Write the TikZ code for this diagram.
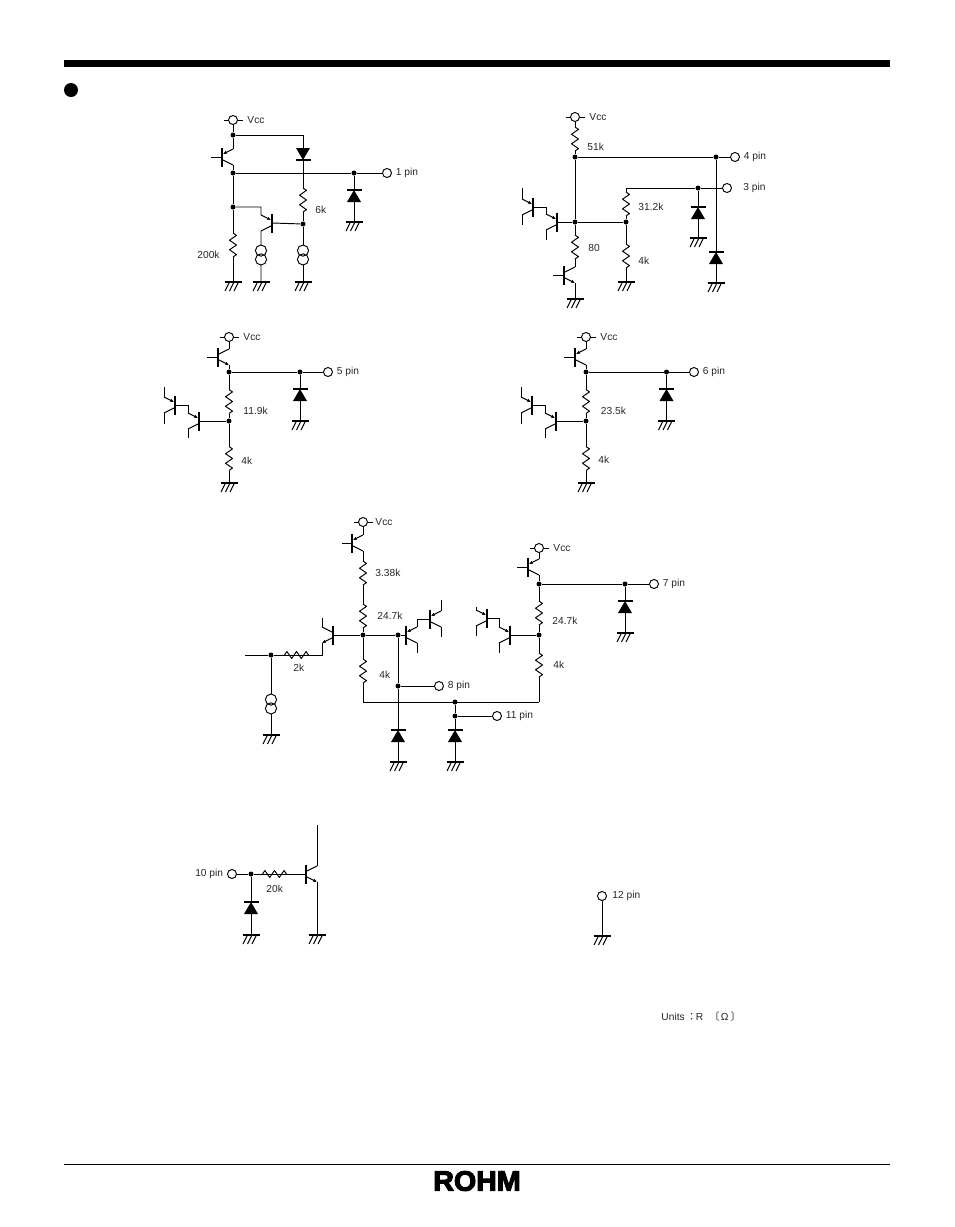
\documentclass[tikz,border=0pt]{standalone}
\usepackage{fontspec}
\setmainfont{Liberation Sans}
\newfontfamily\cjkfont{Noto Sans CJK JP}
\newfontfamily\logofont[FakeBold=4,FakeStretch=1.02]{Liberation Sans Bold}
\usetikzlibrary{arrows.meta,positioning}

\newcommand{\trbar}{\draw[line width=2.1pt] (0,-9.5) -- (0,9.5);
  \coordinate (-b) at (0,0); \coordinate (-t) at (11,-8); \coordinate (-u) at (11,8);}
\tikzset{
  pin/.style={circle, draw, fill=white, inner sep=0pt, minimum size=9pt},
  dot/.style={circle, fill, inner sep=0pt, minimum size=5pt},
  lbl/.style={font=\fontsize{10.2}{12}\selectfont, inner sep=0pt, anchor=west, text=black!85},
  tip/.style={-{Latex[length=3.8pt,width=3.4pt]}},
  pnp/.pic={\trbar \draw[tip] (-t) -- (1,-3); \draw (1,3) -- (-u);},
  npn/.pic={\trbar \draw (1,-3) -- (-t); \draw[tip] (1,3) -- (-u);},
  res/.pic={\draw[line join=round] (0,-12) -- (3.5,-9.6) -- (-3.5,-4.8) -- (3.5,0) -- (-3.5,4.8) -- (3.5,9.6) -- (0,12);
    \coordinate (-t) at (0,-12); \coordinate (-u) at (0,12);},
  diode/.pic={\fill (-7,6) -- (7,6) -- (0,-6) -- cycle; \draw[line width=1.5pt] (-7.5,-6) -- (7.5,-6);
    \coordinate (-t) at (0,-6); \coordinate (-u) at (0,6);},
  csrc/.pic={\draw (0,-4.4) circle (5.6) (0,4.4) circle (5.6);
    \coordinate (-t) at (0,-10); \coordinate (-u) at (0,10);},
  gnd/.pic={\draw[line width=2pt] (-8.5,0) -- (8.5,0);
    \draw (-3.5,0) -- (-8,9) (1,0) -- (-3.5,9) (5.5,0) -- (1,9); \coordinate (-t) at (0,0);},
  ticks/.pic={\draw (-9.5,0) -- (-4.5,0) (4.5,0) -- (9.5,0);},
}

\begin{document}
\begin{tikzpicture}[x=1pt, y=-1pt, line width=0.95pt]
  \useasboundingbox (0,0) rectangle (954,1227);
  \fill (64,60) rectangle (890,67);
  \fill (71,90) circle (7);
  \draw (64,1164) -- (890,1164);
  \node[inner sep=0pt] (logo) at (477,1181) {\logofont\fontsize{28}{28}\selectfont ROHM};
  \node[lbl] (units) at (661,1017) {Units\hspace{2pt}{\cjkfont：}\hspace{-1pt}R\hspace{6pt}{\cjkfont〔}\hspace{1.5pt}Ω\hspace{2pt}{\cjkfont〕}};

  % 1 pin
  \pic at (233,120) {ticks};
  \node[pin] (v1) at (233,120) {};
  \node[lbl, right=9pt of v1] (v1l) {Vcc};
  \node[dot] (a1) at (233,135) {};
  \node[dot] (b1) at (233,173) {};
  \node[dot] (c1) at (233,207) {};
  \node[dot] (d1) at (303,224) {};
  \node[dot] (e1) at (354,173) {};
  \node[pin] (p1) at (387,173) {};
  \node[lbl, right=3.5pt of p1] (p1l) {1 pin};
  \pic (q1) at (222,157) {pnp};
  \pic[xscale=-1] (q2) at (272,223) {pnp};
  \pic (d1a) at (303,154) [rotate=180] {diode};
  \pic (d1b) at (354,196) {diode};
  \pic (r1a) at (303,200) {res};
  \pic (r1b) at (233,245) {res};
  \pic (s1a) at (261,255) {csrc};
  \pic (s1b) at (303,255) {csrc};
  \pic (g1a) at (233,282) {gnd};
  \pic (g1b) at (261,282) {gnd};
  \pic (g1c) at (303,282) {gnd};
  \pic (g1d) at (354,222) {gnd};
  \coordinate (q1in) at (211,157);
  \coordinate (k1a) at (303,135);
  \coordinate (k1b) at (261,207);
  \draw (v1) -- (a1) -- (q1-t) (q1in) -- (q1-b) (q1-u) -- (b1) -- (c1) -- (r1b-t) (r1b-u) -- (g1a-t);
  \draw (a1) -- (k1a) -- (d1a-u) (d1a-t) -- (r1a-t) (r1a-u) -- (d1) -- (s1b-t) (s1b-u) -- (g1c-t);
  \draw (b1) -- (e1) -- (p1) (e1) -- (d1b-t) (d1b-u) -- (g1d-t);
  \draw (c1) -- (k1b) -- (q2-t) (q2-b) -- (d1) (q2-u) -- (s1a-t) (s1a-u) -- (g1b-t);
  \node[lbl] (l200k) at (197,255) {200k};
  \node[lbl] (l6k) at (315,210) {6k};

  % 3 pin, 4 pin
  \pic at (575,117) {ticks};
  \node[pin] (v2) at (575,117) {};
  \node[lbl, right=9pt of v2] (v2l) {Vcc};
  \node[dot] (a2) at (575,157) {};
  \node[dot] (b2) at (716,157) {};
  \node[pin] (p4) at (735,157) {};
  \node[lbl, right=3.5pt of p4] (p4l) {4 pin};
  \node[dot] (c2) at (698,188) {};
  \node[pin] (p3) at (727,188) {};
  \node[lbl] (p3l) at (743,188) {3 pin};
  \node[dot] (d2) at (575,222) {};
  \node[dot] (e2) at (626,222) {};
  \coordinate (k2) at (626,188);
  \pic (r2a) at (575,139) {res};
  \pic (r2b) at (626,204) {res};
  \pic (r2c) at (626,256) {res};
  \pic (r2d) at (575,247) {res};
  \pic (d2a) at (698,213) {diode};
  \pic (d2b) at (716,258) {diode};
  \pic (g2a) at (698,238) {gnd};
  \pic (g2b) at (716,283) {gnd};
  \pic (g2c) at (626,282) {gnd};
  \pic (g2d) at (575,299) {gnd};
  \pic[xscale=-1] (t2a) at (533,207) {pnp};
  \pic[xscale=-1] (t2b) at (557,222) {pnp};
  \pic (t2c) at (564,275) {npn};
  \coordinate (f2a) at (522,188); \coordinate (f2b) at (522,225); \coordinate (f2c) at (546,240); \coordinate (f2d) at (553,275);
  \draw (v2) -- (r2a-t) (r2a-u) -- (a2) -- (b2) -- (p4) (a2) -- (d2) -- (e2) (d2) -- (r2d-t) (r2d-u) -- (t2c-t);
  \draw (b2) -- (d2b-t) (d2b-u) -- (g2b-t);
  \draw (p3) -- (c2) -- (k2) -- (r2b-t) (r2b-u) -- (e2) -- (r2c-t) (r2c-u) -- (g2c-t);
  \draw (c2) -- (d2a-t) (d2a-u) -- (g2a-t);
  \draw (f2a) -- (t2a-t) (t2a-u) -- (f2b) (t2a-b) -| (t2b-t) (t2b-u) -- (f2c) (t2b-b) -- (d2);
  \draw (f2d) -- (t2c-b) (t2c-u) -- (g2d-t);
  \node[lbl] (l51k) at (587,147) {51k};
  \node[lbl] (l312k) at (638,207) {31.2k};
  \node[lbl] (l80) at (588,248) {80};
  \node[lbl] (l4ka) at (638,261) {4k};

  % 5 pin
  \pic at (229,337) {ticks};
  \node[pin] (v3) at (229,337) {};
  \node[lbl, right=9pt of v3] (v3l) {Vcc};
  \node[dot] (a3) at (229,372) {};
  \node[dot] (b3) at (300,372) {};
  \node[pin] (p5) at (328,372) {};
  \node[lbl, right=3.5pt of p5] (p5l) {5 pin};
  \node[dot] (c3) at (229,421) {};
  \pic (t3a) at (218,357) {npn};
  \pic[xscale=-1] (t3b) at (175,405) {pnp};
  \pic[xscale=-1] (t3c) at (199,421) {pnp};
  \pic (r3a) at (229,401.5) {res};
  \pic (r3b) at (229,458.5) {res};
  \pic (d3a) at (300,395) {diode};
  \pic (g3a) at (300,421) {gnd};
  \pic (g3b) at (229,483) {gnd};
  \coordinate (f3a) at (207,357); \coordinate (f3b) at (164,387); \coordinate (f3c) at (164,424); \coordinate (f3d) at (188,438);
  \draw (v3) -- (t3a-t) (f3a) -- (t3a-b) (t3a-u) -- (a3) -- (b3) -- (p5) (b3) -- (d3a-t) (d3a-u) -- (g3a-t);
  \draw (a3) -- (r3a-t) (r3a-u) -- (c3) -- (r3b-t) (r3b-u) -- (g3b-t);
  \draw (f3b) -- (t3b-t) (t3b-u) -- (f3c) (t3b-b) -| (t3c-t) (t3c-u) -- (f3d) (t3c-b) -- (c3);
  \node[lbl] (l119k) at (243,411) {11.9k};
  \node[lbl] (l4kb) at (241,461) {4k};

  % 6 pin
  \pic at (586,337) {ticks};
  \node[pin] (v4) at (586,337) {};
  \node[lbl, right=9pt of v4] (v4l) {Vcc};
  \node[dot] (a4) at (586,372) {};
  \node[dot] (b4) at (666.5,372) {};
  \node[pin] (p6) at (694,372) {};
  \node[lbl, right=3.5pt of p6] (p6l) {6 pin};
  \node[dot] (c4) at (586,421) {};
  \pic (t4a) at (575,357) {pnp};
  \pic[xscale=-1] (t4b) at (532,405) {pnp};
  \pic[xscale=-1] (t4c) at (556,421) {pnp};
  \pic (r4a) at (586,401.5) {res};
  \pic (r4b) at (586,458.5) {res};
  \pic (d4a) at (666.5,395) {diode};
  \pic (g4a) at (666.5,421) {gnd};
  \pic (g4b) at (586,483) {gnd};
  \coordinate (f4a) at (564,357); \coordinate (f4b) at (521,387); \coordinate (f4c) at (521,424); \coordinate (f4d) at (545,438);
  \draw (v4) -- (t4a-t) (f4a) -- (t4a-b) (t4a-u) -- (a4) -- (b4) -- (p6) (b4) -- (d4a-t) (d4a-u) -- (g4a-t);
  \draw (a4) -- (r4a-t) (r4a-u) -- (c4) -- (r4b-t) (r4b-u) -- (g4b-t);
  \draw (f4b) -- (t4b-t) (t4b-u) -- (f4c) (t4b-b) -| (t4c-t) (t4c-u) -- (f4d) (t4c-b) -- (c4);
  \node[lbl] (l235k) at (600.5,411) {23.5k};
  \node[lbl] (l4kc) at (598,460) {4k};

  % 8 pin, 11 pin, 7 pin
  \pic at (363,522) {ticks};
  \node[pin] (v5) at (363,522) {};
  \node[lbl, right=7pt of v5] (v5l) {Vcc};
  \pic (t5a) at (352,543) {pnp};
  \pic (r5a) at (363,573) {res};
  \pic (r5b) at (363,616) {res};
  \pic (r5c) at (363,671) {res};
  \node[dot] (a5) at (363,635) {};
  \node[dot] (b5) at (398,635) {};
  \node[dot] (c5) at (398,686) {};
  \node[pin] (p8) at (439,686) {};
  \node[lbl, right=3.5pt of p8] (p8l) {8 pin};
  \node[dot] (d5) at (455,702) {};
  \node[dot] (e5) at (455,716) {};
  \node[pin] (p11) at (497,716) {};
  \node[lbl, right=3.5pt of p11] (p11l) {11 pin};
  \node[dot] (f5) at (271,655) {};
  \coordinate (k5a) at (363,702); \coordinate (k5b) at (539,702);
  \coordinate (k5c) at (322,655); \coordinate (k5d) at (245,655);
  \coordinate (f5a) at (342,543); \coordinate (f5b) at (322,618);
  \coordinate (f5c) at (417,653); \coordinate (f5d) at (441,600); \coordinate (f5e) at (441,637);
  \pic[xscale=-1] (t5b) at (333,635) {npn};
  \pic (t5c) at (406,635) {pnp};
  \pic (t5d) at (430,619) {pnp};
  \pic[rotate=90] (r5d) at (296.5,655) {res};
  \pic (s5) at (271,704) {csrc};
  \pic (d5a) at (398,736) {diode};
  \pic (d5b) at (455,736) {diode};
  \pic (g5a) at (271,735) {gnd};
  \pic (g5b) at (398,762) {gnd};
  \pic (g5c) at (455,762) {gnd};
  \draw (v5) -- (t5a-t) (f5a) -- (t5a-b) (t5a-u) -- (r5a-t) (r5a-u) -- (r5b-t) (r5b-u) -- (a5) -- (r5c-t) (r5c-u) -- (k5a) -- (k5b);
  \draw (t5b-b) -- (a5) -- (b5) -- (t5c-b) (f5b) -- (t5b-t) (t5b-u) -- (k5c) -- (r5d-t) (r5d-u) -- (f5) -- (k5d);
  \draw (f5) -- (s5-t) (s5-u) -- (g5a-t);
  \draw (t5c-t) |- (t5d-b) (t5c-u) -- (f5c) (f5d) -- (t5d-t) (t5d-u) -- (f5e);
  \draw (b5) -- (c5) -- (p8) (c5) -- (d5a-t) (d5a-u) -- (g5b-t);
  \draw (d5) -- (e5) -- (p11) (e5) -- (d5b-t) (d5b-u) -- (g5c-t);
  \node[lbl] (l338k) at (375,573) {3.38k};
  \node[lbl] (l247ka) at (377,616) {24.7k};
  \node[lbl] (l2k) at (293,668) {2k};
  \node[lbl] (l4kd) at (379,675) {4k};

  \pic at (539,548) {ticks};
  \node[pin] (v6) at (539,548) {};
  \node[lbl, right=9pt of v6] (v6l) {Vcc};
  \node[dot] (a6) at (539,584) {};
  \node[dot] (b6) at (625,584) {};
  \node[pin] (p7) at (654,584) {};
  \node[lbl, right=3.5pt of p7] (p7l) {7 pin};
  \node[dot] (c6) at (539,635) {};
  \pic (t6a) at (528,567) {pnp};
  \pic[xscale=-1] (t6b) at (487,618) {pnp};
  \pic[xscale=-1] (t6c) at (510,635) {pnp};
  \pic (r6a) at (539,613) {res};
  \pic (r6b) at (539,665) {res};
  \pic (d6a) at (625,607) {diode};
  \pic (g6a) at (625,633) {gnd};
  \coordinate (f6a) at (517,567); \coordinate (f6b) at (476,607); \coordinate (f6c) at (476,636); \coordinate (f6d) at (499,653);
  \draw (v6) -- (t6a-t) (f6a) -- (t6a-b) (t6a-u) -- (a6) -- (b6) -- (p7) (b6) -- (d6a-t) (d6a-u) -- (g6a-t);
  \draw (a6) -- (r6a-t) (r6a-u) -- (c6) -- (r6b-t) (r6b-u) -- (k5b);
  \draw (f6b) -- (t6b-t) (t6b-u) -- (f6c) (t6b-b) -| (t6c-t) (t6c-u) -- (f6d) (t6c-b) -- (c6);
  \node[lbl] (l247kb) at (552,621) {24.7k};
  \node[lbl] (l4ke) at (553,665) {4k};

  % 10 pin
  \node[pin] (p10) at (232,874) {};
  \node[lbl, anchor=east, left=3.5pt of p10] (p10l) {10 pin};
  \node[dot] (a7) at (251,874) {};
  \pic[rotate=90] (r7) at (274.5,874) {res};
  \pic (t7) at (306,874) {npn};
  \pic (d7) at (251,908) {diode};
  \pic (g7a) at (251,935) {gnd};
  \pic (g7b) at (317,935) {gnd};
  \coordinate (f7) at (317,825);
  \draw (p10) -- (a7) -- (r7-u) (r7-t) -- (t7-b) (a7) -- (d7-t) (d7-u) -- (g7a-t);
  \draw (f7) -- (t7-t) (t7-u) -- (g7b-t);
  \node[lbl] (l20k) at (266,889) {20k};

  % 12 pin
  \node[pin] (p12) at (602,896) {};
  \node[lbl, right=5pt of p12] (p12l) {12 pin};
  \pic (g8) at (602,936) {gnd};
  \draw (p12) -- (g8-t);
\end{tikzpicture}
\end{document}
